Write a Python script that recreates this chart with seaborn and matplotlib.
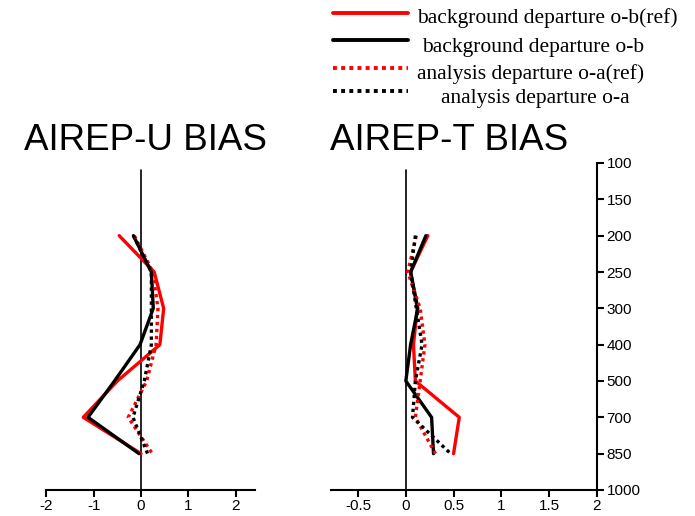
import numpy as np
import pandas as pd
import matplotlib
matplotlib.use("Agg")
import matplotlib.pyplot as plt
import seaborn as sns
from matplotlib.lines import Line2D

# ---------------- data ----------------
tick_levels = [100, 150, 200, 250, 300, 400, 500, 700, 850, 1000]
levels = [200, 250, 300, 400, 500, 700, 850]

series_labels = ["background departure o-b(ref)", "background departure o-b",
                 "analysis departure o-a(ref)", "analysis departure o-a"]

# AIREP-U bias
u_ob_ref = [-0.46, 0.28, 0.48, 0.40, -0.50, -1.22, 0.00]
u_ob = [-0.16, 0.22, 0.26, -0.02, -0.56, -1.12, -0.04]
u_oa_ref = [-0.14, 0.25, 0.36, 0.32, 0.12, -0.27, 0.24]
u_oa = [-0.16, 0.22, 0.22, 0.22, 0.07, -0.17, 0.14]

# AIREP-T bias
t_ob_ref = [0.23, 0.05, 0.12, 0.08, 0.10, 0.56, 0.50]
t_ob = [0.21, 0.05, 0.125, 0.05, 0.00, 0.27, 0.29]
t_oa_ref = [0.11, 0.02, 0.15, 0.20, 0.15, 0.10, 0.31]
t_oa = [0.10, 0.05, 0.11, 0.17, 0.10, 0.07, 0.47]

u_xticks = [-2, -1, 0, 1, 2]
t_xticks = [-0.5, 0, 0.5, 1, 1.5, 2]
t_xticklabels = ["-0.5", "0", "0.5", "1", "1.5", "2"]


def long_frame(series_list):
    rows = []
    for lab, vals in zip(series_labels, series_list):
        for lev, v in zip(levels, vals):
            rows.append({"series": lab, "bias": v, "pos": tick_levels.index(lev)})
    return pd.DataFrame(rows)


df_u = long_frame([u_ob_ref, u_ob, u_oa_ref, u_oa])
df_t = long_frame([t_ob_ref, t_ob, t_oa_ref, t_oa])

# ---------------- style ----------------
sns.set_style("white")
plt.rcParams["font.family"] = ["Liberation Sans", "DejaVu Sans"]
plt.rcParams["text.color"] = "black"
plt.rcParams["axes.edgecolor"] = "black"
plt.rcParams["xtick.color"] = "black"
plt.rcParams["ytick.color"] = "black"
plt.rcParams["xtick.labelcolor"] = "black"
plt.rcParams["ytick.labelcolor"] = "black"

palette = {series_labels[0]: "#ff0000", series_labels[1]: "#000000",
           series_labels[2]: "#ff0000", series_labels[3]: "#000000"}
dash_map = {series_labels[0]: "", series_labels[1]: "",
            series_labels[2]: (1, 1.1), series_labels[3]: (1, 1.1)}

W, H = 695, 516
fig = plt.figure(figsize=(W / 100, H / 100), dpi=100)

ax_u = fig.add_axes([46.4 / W, 26 / H, 209 / W, 327 / H])
ax_t = fig.add_axes([331.4 / W, 26 / H, 265.3 / W, 327 / H])

for ax, df in ((ax_u, df_u), (ax_t, df_t)):
    sns.lineplot(data=df, x="bias", y="pos", hue="series", style="series",
                 hue_order=series_labels, style_order=series_labels,
                 palette=palette, dashes=dash_map, sort=False, estimator=None,
                 legend=False, linewidth=2.4, ax=ax)
    ax.axvline(0, ymin=0, ymax=0.98, color="black", lw=1.2, zorder=0.5)
    ax.set_ylim(len(tick_levels) - 1, 0)
    ax.set_xlabel("")
    ax.set_ylabel("")
    ax.spines["top"].set_visible(False)
    ax.spines["left"].set_visible(False)
    ax.spines["bottom"].set_linewidth(1.5)
    ax.spines["bottom"].set_color("black")
    ax.tick_params(axis="x", direction="out", length=5, width=1.5, pad=1.5,
                   labelsize=11, bottom=True, colors="black")
    ax.patch.set_alpha(0)

# left panel
ax_u.set_xlim(-2.0, 2.42)
ax_u.set_xticks(u_xticks)
ax_u.set_xticklabels([str(v) for v in u_xticks])
ax_u.spines["right"].set_visible(False)
ax_u.set_yticks([])

# right panel
ax_t.set_xlim(-0.78, 2.0)
ax_t.set_xticks(t_xticks)
ax_t.set_xticklabels(t_xticklabels)
ax_t.spines["right"].set_linewidth(1.5)
ax_t.spines["right"].set_color("black")
ax_t.yaxis.tick_right()
ax_t.set_yticks(range(len(tick_levels)))
ax_t.set_yticklabels([str(v) for v in tick_levels])
ax_t.tick_params(axis="y", direction="out", length=5, width=1.5, pad=2,
                 labelsize=11, right=True, left=False, colors="black")

# titles
fig.text(145 / W, 1 - 149.5 / H, "AIREP-U BIAS", ha="center", va="baseline",
         fontsize=26.5, color="black")
fig.text(449 / W, 1 - 149.5 / H, "AIREP-T BIAS", ha="center", va="baseline",
         fontsize=26.5, color="black")

# legend (manual, centred text as in reference)
leg_line_y = [13.3, 40, 68, 91]
leg_text_x = [417, 422, 417, 441]
leg_text_y = [22.7, 51.7, 79, 103.3]
for lab, ly, tx, ty in zip(series_labels, leg_line_y, leg_text_x, leg_text_y):
    ls = "-" if dash_map[lab] == "" else (0, dash_map[lab])
    fig.add_artist(Line2D([333 / W, 408 / W], [1 - ly / H, 1 - ly / H],
                          color=palette[lab], lw=2.8, linestyle=ls,
                          transform=fig.transFigure))
    fig.text(tx / W, 1 - ty / H, lab, ha="left", va="baseline", fontsize=15.5,
             family=["Liberation Serif", "DejaVu Serif"], color="black")

fig.savefig("out.png", dpi=100)
